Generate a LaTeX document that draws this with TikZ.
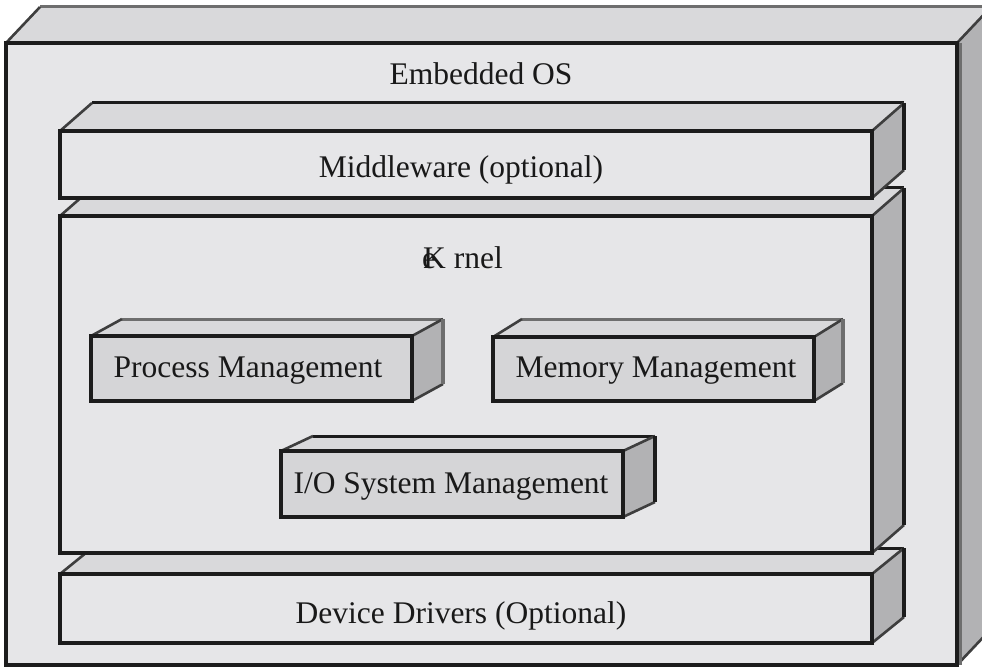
\documentclass[tikz,border=0pt]{standalone}
\usepackage{fontspec}
\setmainfont{Liberation Serif}
\usetikzlibrary{calc}
\definecolor{frontc}{HTML}{E6E6E8}
\definecolor{innerc}{HTML}{D5D5D7}
\definecolor{topc}{HTML}{D9D9DB}
\definecolor{sidec}{HTML}{B2B2B4}
\definecolor{edgec}{HTML}{1C1C1C}
\definecolor{backc}{HTML}{6E6E6E}
\tikzset{
  edge/.style={draw=edgec, line width=3.4pt},
  slant/.style={draw=edgec!85!white, line width=2.6pt},
  backedge/.style={line width=3pt},
  lbl/.style={anchor=base, inner sep=0pt, font=\fontsize{31.5}{36}\selectfont, text=black!90}
}
% #1 name, #2 x1, #3 y1, #4 x2, #5 y2, #6 dx, #7 dy, #8 front fill, #9 back edge colour
\newcommand\slab[9]{%
  \coordinate (#1-a) at (#2,#3);
  \coordinate (#1-b) at (#4,#3);
  \coordinate (#1-c) at (#4,#5);
  \coordinate (#1-d) at (#2,#5);
  \coordinate (#1-e) at ($(#1-a)+(#6,#7)$);
  \coordinate (#1-f) at ($(#1-b)+(#6,#7)$);
  \coordinate (#1-g) at ($(#1-c)+(#6,#7)$);
  \fill[topc] (#1-a) -- (#1-e) -- (#1-f) -- (#1-b) -- cycle;
  \fill[sidec] (#1-b) -- (#1-f) -- (#1-g) -- (#1-c) -- cycle;
  \draw[backedge, draw=#9] (#1-e) -- (#1-f);
  \draw[slant] (#1-a) -- (#1-e);
  \draw[slant] (#1-b) -- (#1-f);
  \draw[slant] (#1-c) -- (#1-g);
  \draw[edge, draw=#9] (#1-f) -- (#1-g);
  \filldraw[edge, fill=#8] (#1-a) rectangle (#1-c);
}
\begin{document}
\begin{tikzpicture}[x=1pt, y=-1pt]
\useasboundingbox (0,0) rectangle (982,668);
\fill[white] (0,0) rectangle (982,668);
\clip (0,0) rectangle (982,668);
% outer box
\slab{os}{6}{43}{957}{665}{34}{-36}{frontc}{backc}
\draw[backc, line width=2.5pt] (960.5,43) -- (960.5,665);
\node[lbl] (osl) at (481,85) {Embedded OS};
% device drivers
\slab{dd}{60}{574}{872}{643}{32}{-26}{frontc}{edgec}
\node[lbl] (ddl) at (461,623) {Device Drivers (Optional)};
% kernel
\slab{kn}{60}{216}{872}{553}{32}{-28}{frontc}{edgec}
\node[lbl] (knl) at (463,269) {\rlap{\kern-1pt e}K rnel};
% middleware
\slab{mw}{60}{131}{872}{198}{32}{-28}{frontc}{edgec}
\node[lbl] (mwl) at (461,178) {Middleware (optional)};
% inner boxes
\slab{pm}{91}{336}{412}{401}{31}{-17}{innerc}{backc}
\node[lbl] (pml) at (248,377) {Process Management};
\slab{mm}{493}{337}{814}{401}{29}{-18}{innerc}{backc}
\node[lbl] (mml) at (656,377) {Memory Management};
\slab{io}{281}{451}{623}{517}{32}{-15}{innerc}{edgec}
\node[lbl] (iol) at (451,493) {I/O System Management};
\end{tikzpicture}
\end{document}
